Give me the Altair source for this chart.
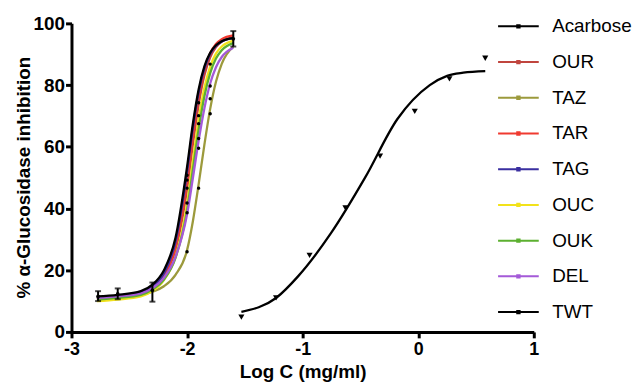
import altair as alt
import pandas as pd

# ---- data ----
SERIES = ["Acarbose", "OUR", "TAZ", "TAR", "TAG", "OUC", "OUK", "DEL", "TWT"]
COLORS = ["#000000", "#c0453e", "#9c9a3c", "#f03a30", "#3a2fa0", "#f2e21a", "#5cb030", "#a45ad8", "#000000"]

# fitted extract curves
CURVE_X = [-2.78, -2.6, -2.4, -2.3, -2.2, -2.1, -2.0, -1.95, -1.9, -1.85, -1.8, -1.75, -1.7, -1.6]
OUR = [11.0, 11.5, 12.5, 14.3, 18.0, 26.5, 46.3, 60.7, 73.7, 83.2, 89.0, 92.3, 94.1, 95.5]
TAZ = [11.0, 11.3, 12.0, 13.0, 14.8, 18.5, 26.5, 35.8, 47.8, 60.7, 72.3, 81.1, 86.9, 92.5]
TAR = [10.5, 11.1, 12.2, 14.0, 18.0, 27.5, 49.1, 63.7, 76.2, 85.0, 90.3, 93.3, 94.9, 96.1]
TAG = [11.0, 11.6, 12.7, 14.6, 19.0, 29.2, 51.8, 66.0, 77.6, 85.4, 90.2, 92.7, 94.1, 95.2]
OUC = [10.0, 10.5, 11.5, 13.2, 16.8, 24.3, 41.5, 55.3, 68.7, 79.1, 86.0, 90.2, 92.5, 94.3]
OUK = [10.5, 11.0, 12.0, 13.7, 17.0, 24.0, 39.4, 52.5, 65.6, 76.4, 83.9, 88.6, 91.3, 93.6]
DEL = [11.0, 11.5, 12.5, 14.2, 17.5, 24.3, 38.1, 49.8, 61.9, 72.5, 80.5, 85.8, 89.1, 92.1]
TWT = [11.5, 12.0, 13.2, 15.3, 20.0, 30.5, 53.5, 67.4, 78.6, 86.1, 90.5, 92.9, 94.2, 95.2]

# Acarbose fitted curve
ACA_CURVE_X = [-1.53, -1.23, -1.04, -0.755, -0.46, -0.18, 0.10, 0.25, 0.39, 0.58]
ACA_CURVE_Y = [6.5, 11.0, 18.0, 32.0, 50.0, 69.0, 80.0, 83.0, 84.0, 84.5]

# Acarbose measured points
ACA_X = [-1.53, -1.23, -0.94, -0.63, -0.33, -0.03, 0.27, 0.58]
ACA_Y = [4.8, 11.0, 24.8, 40.2, 57.0, 71.5, 82.0, 88.7]

# extract measured points (black dots)
PTS_X = [-2.0, -2.0, -2.0, -2.0, -2.0, -2.0, -1.9, -1.9, -1.9, -1.9, -1.9, -1.9, -1.8, -1.8, -1.8, -1.8]
PTS_Y = [50.8, 49.2, 46.6, 41.8, 38.6, 26.0, 74.3, 70.1, 67.5, 62.7, 59.5, 46.6, 86.8, 79.7, 75.6, 70.7]

# error bars
ERR_X = [-2.77, -2.6, -2.3, -1.6]
ERR_MEAN = [11.5, 12.3, 13.5, 95.0]
ERR_LO = [10.0, 10.6, 9.8, 92.5]
ERR_HI = [13.2, 14.1, 16.0, 97.5]

X_TICKS = [-3, -2, -1, 0, 1]
Y_TICKS = [0, 20, 40, 60, 80, 100]

# ---- build tables ----
rows = []
for name, ys in [("OUR", OUR), ("TAZ", TAZ), ("TAR", TAR), ("TAG", TAG), ("OUC", OUC),
                 ("OUK", OUK), ("DEL", DEL), ("TWT", TWT)]:
    for i, (x, y) in enumerate(zip(CURVE_X, ys)):
        rows.append({"series": name, "x": x, "y": y, "i": i})
for i, (x, y) in enumerate(zip(ACA_CURVE_X, ACA_CURVE_Y)):
    rows.append({"series": "Acarbose", "x": x, "y": y, "i": i})
curves = pd.DataFrame(rows)

aca = pd.DataFrame({"x": ACA_X, "y": ACA_Y})
pts = pd.DataFrame({"x": PTS_X, "y": PTS_Y})
err = pd.DataFrame({"x": ERR_X, "m": ERR_MEAN, "lo": ERR_LO, "hi": ERR_HI})

FONT = "Liberation Sans"

xscale = alt.Scale(domain=[-3, 1], nice=False, zero=False)
yscale = alt.Scale(domain=[0, 100], nice=False)

x_axis = alt.Axis(values=X_TICKS, title="Log C (mg/ml)", grid=False,
                  labelExpr="toString(datum.value)", labelFlush=False,
                  labelFontSize=18, labelPadding=3,
                  titleX=233, titleY=46, titleBaseline="alphabetic", titleAlign="center")
y_axis = alt.Axis(values=Y_TICKS, title="% α-Glucosidase inhibition", grid=False,
                  titleX=-42, titleY=155, titleAngle=-90, titleAlign="center",
                  titleBaseline="alphabetic")

legend_path = "M-2.05,0H2.05M-0.12,-0.12H0.12V0.12H-0.12Z"

lines = alt.Chart(curves).mark_line(interpolate="monotone", strokeWidth=2.3).encode(
    x=alt.X("x:Q", scale=xscale, axis=x_axis),
    y=alt.Y("y:Q", scale=yscale, axis=y_axis),
    color=alt.Color("series:N", scale=alt.Scale(domain=SERIES, range=COLORS),
                    legend=alt.Legend(title=None, orient="none", legendX=439.5, legendY=-8,
                                      symbolType=legend_path, symbolSize=400,
                                      symbolStrokeWidth=2.0,
                                      labelFont=FONT, labelFontSize=19, labelColor="black",
                                      labelOffset=23, rowPadding=15, padding=0,
                                      labelLimit=200)),
    order=alt.Order("i:Q"),
    detail="series:N",
)

aca_pts = alt.Chart(aca).mark_point(shape="triangle-down", filled=True, color="black",
                                    size=38, opacity=1).encode(x="x:Q", y="y:Q")

ext_pts = alt.Chart(pts).mark_circle(color="black", size=12, opacity=1).encode(x="x:Q", y="y:Q")

err_rule = alt.Chart(err).mark_rule(color="black", strokeWidth=2).encode(
    x="x:Q", y="lo:Q", y2="hi:Q")
err_lo = alt.Chart(err).mark_tick(color="black", thickness=2, size=6, orient="horizontal").encode(
    x="x:Q", y="lo:Q")
err_hi = alt.Chart(err).mark_tick(color="black", thickness=2, size=6, orient="horizontal").encode(
    x="x:Q", y="hi:Q")
err_pt = alt.Chart(err).mark_circle(color="black", size=14, opacity=1).encode(x="x:Q", y="m:Q")

chart = alt.layer(lines, aca_pts, ext_pts, err_rule, err_lo, err_hi, err_pt).properties(
    width=466, height=311,
    autosize=alt.AutoSizeParams(type="none"),
    padding={"left": 64, "top": 14, "right": 100, "bottom": 50},
    background="white",
).configure_view(stroke=None).configure_axis(
    domainColor="black", domainWidth=3, tickColor="black", tickWidth=3, tickSize=6,
    labelFont=FONT, labelFontSize=19, labelFontWeight="bold", labelColor="black",
    titleFont=FONT, titleFontSize=19, titleFontWeight="bold", titleColor="black",
).configure_axisY(labelPadding=1)

chart.save("out.html", embed_options={"renderer": "svg", "actions": False})
